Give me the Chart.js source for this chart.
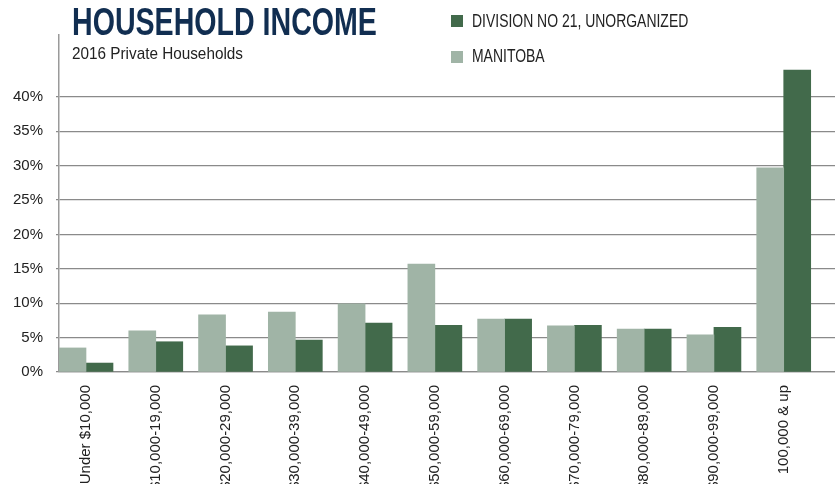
<!DOCTYPE html>
<html>
<head>
    <title>Household Income</title>
    <script src="https://cdn.jsdelivr.net/npm/chart.js"></script>
    <style>
        body {
            margin: 0;
            padding: 0;
            overflow: hidden;
            background: #ffffff;
            font-family: 'Liberation Sans', Arial, sans-serif;
        }
        #wrap {
            position: relative;
            width: 835px;
            height: 484px;
        }
        /* no narrow face installed, so squeeze the regular one */
        .title {
            position: absolute;
            left: 72px;
            top: 2px;
            font-size: 39px;
            line-height: 39px;
            font-weight: bold;
            color: #112e51;
            white-space: nowrap;
            transform: scaleX(0.733);
            transform-origin: left top;
            z-index: 2;
        }
        .subtitle {
            position: absolute;
            left: 72px;
            top: 45px;
            font-size: 17px;
            line-height: 17px;
            color: #222;
            white-space: nowrap;
            transform: scaleX(0.9);
            transform-origin: left top;
            z-index: 2;
        }
        .legend-item {
            position: absolute;
            left: 451px;
            height: 18px;
            display: flex;
            align-items: center;
            font-size: 18px;
            color: #222;
            white-space: nowrap;
            z-index: 2;
        }
        .legend-item span.box {
            width: 12px;
            height: 12px;
            margin-right: 9px;
            display: inline-block;
        }
        .legend-item span.txt {
            display: inline-block;
            transform: scaleX(0.775);
            transform-origin: left center;
        }
    </style>
</head>
<body>
    <div id="wrap">
        <div class="title">HOUSEHOLD INCOME</div>
        <div class="subtitle">2016 Private Households</div>
        <div id="legend"></div>
        <canvas id="myChart"></canvas>
    </div>

    <script>
        // income brackets (labels run off the bottom edge, as in the original)
        const categories = ['Under $10,000', '$10,000-19,000', '$20,000-29,000', '$30,000-39,000',
            '$40,000-49,000', '$50,000-59,000', '$60,000-69,000', '$70,000-79,000',
            '$80,000-89,000', '$90,000-99,000', '100,000 & up'];
        // share of private households, %
        const manitoba = [3.5, 6.0, 8.3, 8.7, 9.9, 15.7, 7.7, 6.7, 6.25, 5.4, 29.7];
        const division = [1.3, 4.4, 3.8, 4.65, 7.1, 6.8, 7.7, 6.8, 6.25, 6.5, 43.9];
        const yTicks = [0, 5, 10, 15, 20, 25, 30, 35, 40];

        const darkGreen = '#426a4b';
        const lightGreen = '#a0b4a6';
        const gridGray = '#8a8a8a';
        const font = "'Liberation Sans', Arial, sans-serif";

        const toPoints = arr => arr.map((v, i) => ({ x: i, y: v }));

        const datasets = [
            { label: 'MANITOBA', data: toPoints(manitoba), backgroundColor: lightGreen },
            { label: 'DIVISION NO 21, UNORGANIZED', data: toPoints(division), backgroundColor: darkGreen }
        ];

        // legend, listed with the division first
        const legend = document.getElementById('legend');
        datasets.slice().reverse().forEach((ds, i) => {
            const item = document.createElement('div');
            item.className = 'legend-item';
            item.style.top = (12 + i * 35.5) + 'px';
            item.innerHTML = '<span class="box" style="background:' + ds.backgroundColor + '"></span>' +
                '<span class="txt">' + ds.label + '</span>';
            legend.appendChild(item);
        });

        const canvas = document.getElementById('myChart');

        new Chart(canvas, {
            type: 'bar',
            data: { datasets: datasets },
            options: {
                responsive: true,
                maintainAspectRatio: false,
                animation: false,
                layout: { padding: { top: 35, left: 0, right: 0, bottom: 0 } },
                datasets: {
                    bar: { barThickness: 27 }
                },
                plugins: {
                    legend: { display: false },
                    tooltip: { enabled: false }
                },
                scales: {
                    x: {
                        type: 'linear',
                        offset: false,
                        min: -0.387,
                        max: 10.735,
                        grid: { display: false, drawTicks: false },
                        border: { display: true, color: gridGray, width: 1.2 },
                        afterBuildTicks: s => {
                            s.ticks = s.ticks.filter(t => Number.isInteger(t.value) && t.value >= 0 && t.value < categories.length);
                        },
                        afterFit: s => { s.height = 112; },
                        ticks: {
                            stepSize: 1,
                            autoSkip: false,
                            minRotation: 90,
                            maxRotation: 90,
                            padding: 13,
                            color: '#222',
                            font: { family: font, size: 15 },
                            callback: v => categories[v]
                        }
                    },
                    y: {
                        min: 0,
                        max: 49,
                        grid: { color: gridGray, lineWidth: 1.2, tickLength: 3 },
                        border: { display: true, color: '#9a9a9a', width: 1.5 },
                        afterBuildTicks: s => {
                            s.ticks = yTicks.map(v => ({ value: v }));
                        },
                        afterFit: s => { s.width = 59; },
                        ticks: {
                            padding: 13,
                            color: '#222',
                            font: { family: font, size: 15 },
                            callback: v => v + '%'
                        }
                    }
                }
            }
        });
    </script>
</body>
</html>
